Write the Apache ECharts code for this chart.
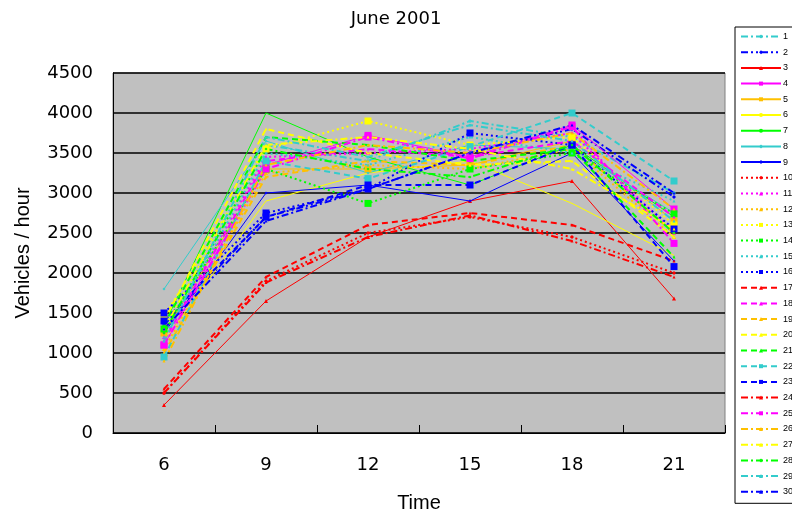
<!DOCTYPE html>
<html>
<head>
<meta charset="utf-8">
<script src="https://cdn.jsdelivr.net/npm/echarts@6/dist/echarts.min.js"></script>
<style>html,body{margin:0;padding:0;background:#fff}#c{width:792px;height:516px}</style>
</head>
<body>
<div id="c"></div>
<script>
const hours = ['6', '9', '12', '15', '18', '21'];
const seriesNames = ['1','2','3','4','5','6','7','8','9','10','11','12','13','14','15','16','17','18','19','20','21','22','23','24','25','26','27','28','29','30'];

const d1  = [1300, 3600, 3400, 3900, 3700, 3000];
const d2  = [1350, 2700, 3050, 3500, 3800, 2950];
const d3  = [350, 1650, 2450, 2900, 3150, 1680];
const d4  = [1100, 3350, 3720, 3450, 3850, 2800];
const d5  = [1250, 3300, 3300, 3350, 3650, 2650];
const d6  = [1150, 2900, 3250, 3400, 2870, 2220];
const d7  = [1350, 4000, 3450, 3100, 3600, 2700];
const d8  = [1800, 3650, 3250, 3600, 3550, 2750];
const d9  = [1250, 3000, 3100, 2900, 3500, 2150];
const d10 = [500, 1900, 2500, 2700, 2450, 2000];
const d11 = [1200, 3450, 3500, 3550, 3750, 2500];
const d12 = [1050, 3250, 3350, 3300, 3550, 2450];
const d13 = [1450, 3550, 3900, 3600, 3700, 2600];
const d14 = [1300, 3300, 2870, 3300, 3500, 2740];
const d15 = [1200, 3500, 3350, 3700, 3500, 2900];
const d16 = [1500, 2750, 3050, 3750, 3600, 2550];
const d17 = [550, 1950, 2600, 2750, 2600, 2150];
const d18 = [1150, 3400, 3550, 3450, 3650, 2700];
const d19 = [1000, 3200, 3400, 3350, 3600, 2500];
const d20 = [1400, 3800, 3500, 3350, 3400, 2450];
const d21 = [1350, 3700, 3600, 3400, 3550, 2200];
const d22 = [950, 3400, 3180, 3580, 4000, 3150];
const d23 = [1400, 2700, 3100, 3100, 3600, 2080];
const d24 = [500, 1880, 2450, 2720, 2400, 1950];
const d25 = [1100, 3300, 3700, 3430, 3830, 2370];
const d26 = [900, 3350, 3600, 3500, 3750, 2800];
const d27 = [1300, 3600, 3700, 3550, 3300, 2550];
const d28 = [1250, 3550, 3300, 3200, 3600, 2500];
const d29 = [1150, 3700, 3450, 3850, 3650, 2650];
const d30 = [1300, 2650, 3050, 3500, 3850, 3000];

const allData = [d1,d2,d3,d4,d5,d6,d7,d8,d9,d10,d11,d12,d13,d14,d15,d16,d17,d18,d19,d20,d21,d22,d23,d24,d25,d26,d27,d28,d29,d30];

// styling (not data)
const CY = '#33CCCC', BL = '#0000FF', RD = '#FF0000', MG = '#FF00FF', OR = '#FFC000', YL = '#FFFF00', GR = '#00FF00';
const DASHDOT = [7, 3, 2, 3], DASHDOTDOT = [7, 3, 2, 3, 2, 3], DOT = [2, 3], DASH = [6, 4];
const styles = [
  [CY, DASHDOT, 'diamond', 4],
  [BL, DASHDOTDOT, 'diamond', 4],
  [RD, 'solid', 'triangle', 4],
  [MG, 'solid', 'rect', 7],
  [OR, 'solid', 'rect', 7],
  [YL, 'solid', 'none', 0],
  [GR, 'solid', 'none', 0],
  [CY, 'solid', 'diamond', 3],
  [BL, 'solid', 'diamond', 3],
  [RD, DOT, 'diamond', 4],
  [MG, DOT, 'triangle', 4],
  [OR, DOT, 'triangle', 4],
  [YL, DOT, 'rect', 7],
  [GR, DOT, 'rect', 7],
  [CY, DOT, 'triangle', 3],
  [BL, DOT, 'rect', 7],
  [RD, DASH, 'triangle', 3],
  [MG, DASH, 'triangle', 3],
  [OR, DASH, 'triangle', 3],
  [YL, DASH, 'triangle', 3],
  [GR, DASH, 'triangle', 3],
  [CY, DASH, 'rect', 7],
  [BL, DASH, 'rect', 7],
  [RD, DASHDOT, 'triangle', 3],
  [MG, DASHDOT, 'rect', 7],
  [OR, DASHDOT, 'triangle', 3],
  [YL, DASHDOT, 'triangle', 3],
  [GR, DASHDOT, 'diamond', 3],
  [CY, DASHDOT, 'triangle', 3],
  [BL, DASHDOT, 'triangle', 3]
];

const FONT = '"Liberation Sans", Arial, sans-serif';
const WFONT = '"DejaVu Sans", sans-serif';

const series = seriesNames.map((n, i) => {
  const [color, type, sym, size] = styles[i];
  return {
    name: n,
    type: 'line',
    data: allData[i],
    symbol: sym,
    symbolSize: size,
    showSymbol: sym !== 'none',
    animation: false,
    color: color,
    lineStyle: { color: color, width: type === 'solid' ? 1 : 2, type: type },
    itemStyle: { color: color, borderColor: color, borderWidth: 0 }
  };
});

const chart = echarts.init(document.getElementById('c'), null, { renderer: 'canvas' });
chart.setOption({
  backgroundColor: '#ffffff',
  animation: false,
  title: {
    text: 'June 2001',
    left: 'center',
    top: 5,
    textStyle: { fontFamily: WFONT, fontSize: 18, fontWeight: 'normal', color: '#000' }
  },
  legend: {
    orient: 'vertical',
    left: 735,
    top: 27,
    padding: [5, 4, 7, 5],
    itemWidth: 40,
    itemHeight: 5,
    itemGap: 6.7,
    borderColor: '#000',
    borderWidth: 1,
    backgroundColor: '#fff',
    textStyle: { fontFamily: FONT, fontSize: 9, color: '#000', padding: [0, 0, 0, -3] },
    data: seriesNames
  },
  grid: {
    left: 113, right: 67, top: 73, bottom: 83,
    outerBoundsMode: 'none',
    show: true,
    backgroundColor: '#C0C0C0',
    borderColor: '#808080',
    borderWidth: 1
  },
  xAxis: {
    type: 'category',
    data: hours,
    boundaryGap: true,
    name: 'Time',
    nameLocation: 'middle',
    nameGap: 60,
    nameTextStyle: { fontFamily: FONT, fontSize: 20, color: '#000' },
    axisLine: { lineStyle: { color: '#000', width: 1 } },
    axisTick: { show: true, inside: true, length: 8, alignWithLabel: false, lineStyle: { color: '#000' } },
    axisLabel: { fontFamily: WFONT, fontSize: 18, color: '#000', margin: 23 },
    splitLine: { show: false }
  },
  yAxis: {
    type: 'value',
    min: 0,
    max: 4500,
    interval: 500,
    name: 'Vehicles / hour',
    nameLocation: 'middle',
    nameGap: 80,
    nameTextStyle: { fontFamily: FONT, fontSize: 20, color: '#000' },
    axisLine: { show: true, lineStyle: { color: '#000', width: 1 } },
    axisTick: { show: false },
    axisLabel: { fontFamily: WFONT, fontSize: 18, color: '#000', margin: 20, formatter: (v) => String(v) },
    splitLine: { show: true, lineStyle: { color: '#000', width: 1.5 } }
  },
  series: series
});
</script>
</body>
</html>
